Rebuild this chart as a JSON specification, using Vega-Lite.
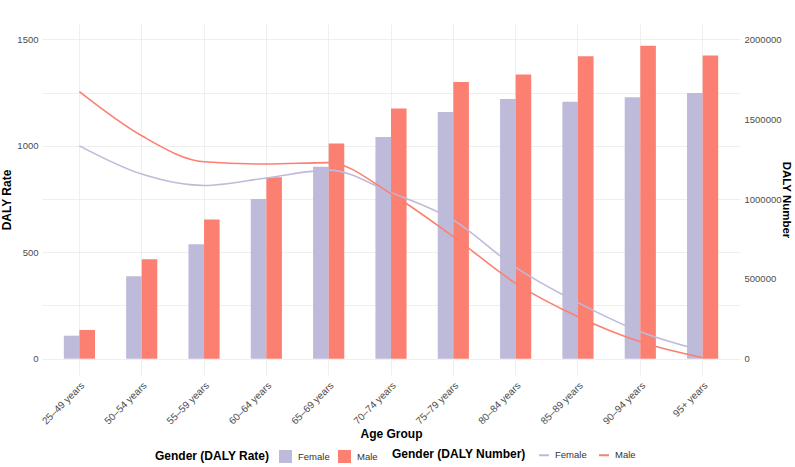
{
  "$schema": "https://vega.github.io/schema/vega-lite/v6.json",
  "width": 698,
  "height": 351,
  "autosize": {"type": "none"},
  "padding": {"left": 42, "top": 24, "right": 55, "bottom": 92},
  "background": "white",
  "config": {
    "font": "Liberation Sans",
    "view": {"stroke": null},
    "axis": {"labelColor": "#4d4d4d", "labelFontSize": 9.5, "titleFontSize": 12, "titleFontWeight": "bold", "titleColor": "black", "gridColor": "#ebebeb", "gridWidth": 0.8, "domain": false, "ticks": false},
    "legend": {"titleFontSize": 12, "titleFontWeight": "bold", "titleColor": "black", "labelFontSize": 9.5, "labelColor": "#333333", "orient": "none", "direction": "horizontal", "titleOrient": "left", "titlePadding": 8, "columnPadding": 7, "labelOffset": 5, "symbolSize": 169}
  },
  "data": {"values": [
    {"age": "25–49 years", "gender": "Female", "rate": 108, "number": 1333000},
    {"age": "25–49 years", "gender": "Male", "rate": 135, "number": 1672000},
    {"age": "50–54 years", "gender": "Female", "rate": 387, "number": 1156000},
    {"age": "50–54 years", "gender": "Male", "rate": 467, "number": 1396000},
    {"age": "55–59 years", "gender": "Female", "rate": 538, "number": 1085000},
    {"age": "55–59 years", "gender": "Male", "rate": 654, "number": 1233000},
    {"age": "60–64 years", "gender": "Female", "rate": 750, "number": 1132000},
    {"age": "60–64 years", "gender": "Male", "rate": 852, "number": 1219000},
    {"age": "65–69 years", "gender": "Female", "rate": 902, "number": 1181000},
    {"age": "65–69 years", "gender": "Male", "rate": 1011, "number": 1228000},
    {"age": "70–74 years", "gender": "Female", "rate": 1041, "number": 1040000},
    {"age": "70–74 years", "gender": "Male", "rate": 1175, "number": 1033000},
    {"age": "75–79 years", "gender": "Female", "rate": 1159, "number": 868000},
    {"age": "75–79 years", "gender": "Male", "rate": 1299, "number": 764000},
    {"age": "80–84 years", "gender": "Female", "rate": 1220, "number": 572000},
    {"age": "80–84 years", "gender": "Male", "rate": 1335, "number": 472000},
    {"age": "85–89 years", "gender": "Female", "rate": 1207, "number": 351000},
    {"age": "85–89 years", "gender": "Male", "rate": 1421, "number": 263000},
    {"age": "90–94 years", "gender": "Female", "rate": 1228, "number": 169000},
    {"age": "90–94 years", "gender": "Male", "rate": 1470, "number": 106000},
    {"age": "95+ years", "gender": "Female", "rate": 1248, "number": 50000},
    {"age": "95+ years", "gender": "Male", "rate": 1424, "number": 6000}
  ]},
  "encoding": {
    "x": {"field": "age", "type": "nominal", "sort": null,
      "scale": {"paddingInner": 0.5, "paddingOuter": 0.35},
      "axis": {"title": "Age Group", "labelAngle": 315, "labelAlign": "right", "labelBaseline": "top", "labelPadding": 5, "labelFontSize": 10, "bandPosition": 0.5, "grid": true, "titlePadding": 3}}
  },
  "layer": [
    {
      "mark": {"type": "bar"},
      "encoding": {
        "xOffset": {"field": "gender", "type": "nominal", "scale": {"paddingInner": 0, "paddingOuter": 0}},
        "y": {"field": "rate", "type": "quantitative", "scale": {"domain": [-76.6, 1572], "nice": false, "zero": false},
          "axis": {"title": "DALY Rate", "values": [0, 250, 500, 750, 1000, 1250, 1500], "labelExpr": "datum.value % 500 === 0 ? datum.label : ''", "format": "d", "labelPadding": 4, "titlePadding": 3}},
        "fill": {"field": "gender", "type": "nominal", "scale": {"domain": ["Female", "Male"], "range": ["#BEBADA", "#FB8072"]}, "legend": {"title": "Gender (DALY Rate)", "symbolType": "square", "legendX": 113, "legendY": 425}}
      }
    },
    {
      "mark": {"type": "line", "interpolate": "monotone", "strokeWidth": 1.6},
      "encoding": {
        "y": {"field": "number", "type": "quantitative", "scale": {"domain": [-102133, 2096000], "nice": false, "zero": false},
          "axis": {"title": "DALY Number", "orient": "right", "grid": false, "values": [0, 500000, 1000000, 1500000, 2000000], "format": "d", "labelPadding": 4, "titlePadding": 0, "titleFontSize": 11.5}},
        "stroke": {"field": "gender", "type": "nominal", "scale": {"domain": ["Female", "Male"], "range": ["#BEBADA", "#FB8072"]}, "legend": {"title": "Gender (DALY Number)", "symbolType": "stroke", "symbolStrokeWidth": 2, "symbolSize": 100, "titlePadding": 12, "labelOffset": 5, "columnPadding": 8, "legendX": 350, "legendY": 425}}
      }
    }
  ],
  "resolve": {"scale": {"y": "independent", "fill": "independent", "stroke": "independent"}}
}
